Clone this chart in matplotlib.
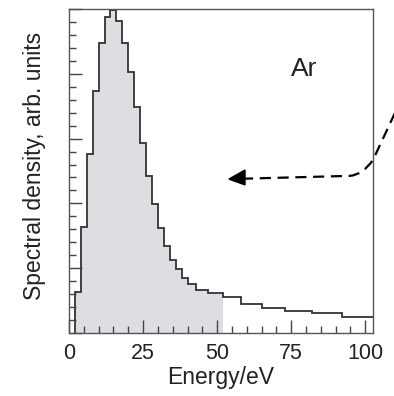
#!/usr/bin/python
'''
Spectral density of Ar (histogram with shaded low-energy part)
'''
import numpy as np

# For non-interactive backend
import matplotlib
matplotlib.use('Agg')
import matplotlib.pyplot as plt
from matplotlib.path import Path
from matplotlib.patches import PathPatch, Polygon
from matplotlib.ticker import MultipleLocator

plt.rcParams['font.family'] = ['Liberation Sans', 'DejaVu Sans']

# Data
#==========================================================
edges   = [2, 4, 6, 8, 10, 12, 14, 16, 18, 20, 22, 24, 26, 28, 30, 32, 34, 36, 38, 40,
           43, 47, 52, 58, 65, 73, 82, 92, 103]
density = [12.7, 32.7, 55.1, 74.8, 89.4, 97.6, 99.6, 96.3, 89.6, 80.4, 69.6, 58.6, 48.6,
           39.7, 32.4, 26.9, 22.6, 19.6, 17.1, 15.1, 13.4, 12.2, 11.1, 9.0, 7.7, 6.9, 6.2, 5.0]
shade_max = 52          # shaded part ends here (eV)
label_txt = 'Ar'
xticks    = [0, 25, 50, 75, 100]

edges   = np.array(edges, dtype=float)
density = np.array(density)

# Plot
#==========================================================
fig = plt.figure(figsize=(3.94, 3.96), dpi=100)
ax  = fig.add_axes([0.1751, 0.1591, 0.7716, 0.8182])

n_sh = int(np.searchsorted(edges, shade_max))
ax.stairs(density[:n_sh], edges[:n_sh+1], fill=True, color='#dcdee1', lw=0)
ax.stairs(density, edges, color='#333333', lw=1.3, baseline=0)

ax.set_xlim(0, 102.6)
ax.set_ylim(0, 100)
ax.set_xticks(xticks)
ax.xaxis.set_minor_locator(MultipleLocator(5))
ax.yaxis.set_major_locator(MultipleLocator(20))
ax.yaxis.set_minor_locator(MultipleLocator(4))
ax.set_yticklabels([])
ax.tick_params(which='both', direction='in', color='#444444', width=1.0,
               top=False, right=False, labelsize=15.5, labelcolor='#222222', pad=7)
ax.tick_params(which='major', length=9.5)
ax.tick_params(which='minor', length=5)
for sp in ax.spines.values():
    sp.set_color('#555555')
    sp.set_linewidth(1.0)

ax.set_xlabel('Energy/eV', fontsize=16.5, color='#222222', labelpad=2)
ax.set_ylabel('Spectral density, arb. units', fontsize=16.5, color='#222222', labelpad=8)
ax.yaxis.set_label_coords(-0.075, 0.515)
ax.text(0.775, 0.815, label_txt, transform=ax.transAxes, fontsize=19,
        color='#222222', ha='center', va='center')

# dashed arrow coming in from the right
verts = [(1.085, 0.705), (1.0, 0.534), (0.965, 0.488), (0.924, 0.485), (0.565, 0.476)]
codes = [Path.MOVETO, Path.LINETO, Path.CURVE3, Path.CURVE3, Path.LINETO]
ax.add_patch(PathPatch(Path(verts, codes), fill=False, color='black', lw=1.6,
                       ls=(0, (5, 3)), transform=ax.transAxes, clip_on=False))
ax.add_patch(Polygon([(0.526, 0.475), (0.579, 0.503), (0.579, 0.457)], closed=True,
                     color='black', transform=ax.transAxes, clip_on=False))

plt.savefig('out.png', dpi=100)
